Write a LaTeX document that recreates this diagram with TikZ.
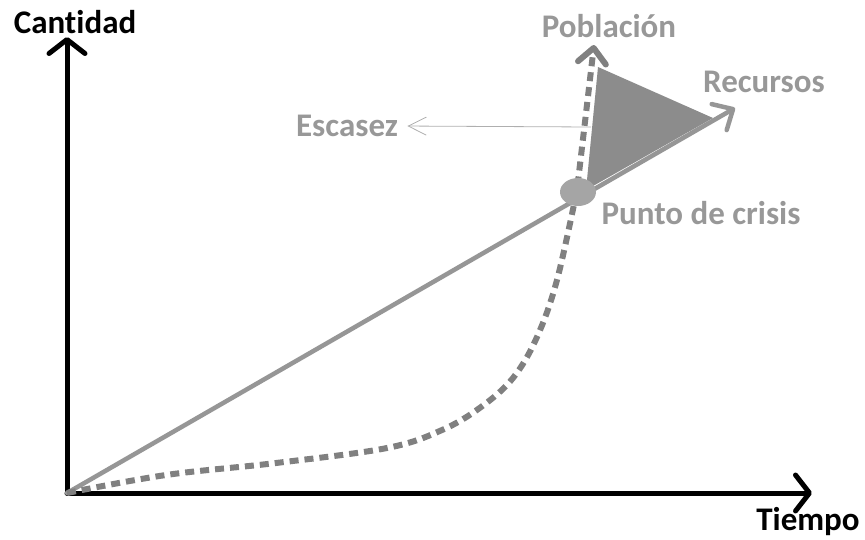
\documentclass[tikz,border=0pt]{standalone}
\usepackage{fontspec}
\setmainfont{Carlito}[Ligatures=NoCommon]
\usetikzlibrary{arrows.meta,shapes.geometric}
\definecolor{grigiotesto}{RGB}{152,152,152}
\definecolor{grigiolinea}{RGB}{150,150,150}
\definecolor{grigiotratto}{RGB}{128,128,128}
\definecolor{grigiotriangolo}{RGB}{140,140,140}
\definecolor{grigiopunto}{RGB}{165,165,165}
\definecolor{grigiosottile}{RGB}{175,175,175}
\begin{document}
\begin{tikzpicture}[x=1pt,y=-1pt,
    etichetta/.style={font=\fontsize{33}{36}\selectfont\bfseries,text=grigiotesto},
    etichettanera/.style={font=\fontsize{33}{36}\selectfont\bfseries,text=black},
    asse/.style={line width=5pt,black,line cap=round,-{Straight Barb[length=14pt,width=36pt,round]}},
    retta/.style={line width=4.5pt,grigiolinea,line cap=round,-{Straight Barb[length=16pt,width=30pt,round]}},
    curva/.style={line width=6pt,grigiotratto,dash pattern=on 9pt off 6pt,-{Straight Barb[length=15pt,width=28pt,round]}},
    sottile/.style={line width=0.8pt,grigiosottile,-{Straight Barb[length=18pt,width=18pt]}}]
    \useasboundingbox (0,0) rectangle (865,539);

    % Assi
    \coordinate (O) at (67,493);
    \coordinate (ycima) at (67,37);
    \coordinate (xcima) at (812,493);
    \draw[asse] (O) -- (ycima); % Asse y
    \draw[asse] (O) -- (xcima); % Asse x
    \node[etichettanera] (cantidad) at (75,22) {Cantidad};
    \node[etichettanera] (tiempo) at (808,522) {Tiempo};

    % Zona di scarsita
    \fill[grigiotriangolo] (598,67) -- (713,118) -- (586,190) -- cycle;

    % Risorse e popolazione
    \coordinate (rcima) at (735,108);
    \coordinate (pcima) at (594,45);
    \coordinate (pc) at (578,192);
    \draw[retta] (O) -- (rcima);
    \draw[curva] plot[smooth,tension=0.6] coordinates {(67,493) (166,475) (276,463) (387,448)
        (442,430) (481,407) (513,378) (537,337) (557,280) (577,190)} -- (pcima);

    % Punto di crisi
    \node[ellipse,fill=grigiopunto,minimum width=36pt,minimum height=28pt,inner sep=0pt] (crisis) at (pc) {};

    \node[etichetta] (poblacion) at (609,26) {Población};
    \node[etichetta] (recursos) at (764,82) {Recursos};
    \node[etichetta] (puntocrisis) at (701,213) {Punto de crisis};
    \node[etichetta] (escasez) at (347,126) {Escasez};

    % Freccia scarsita
    \coordinate (esc) at (591,127);
    \draw[sottile, shorten >=6pt] (esc) -- (escasez.east);
\end{tikzpicture}
\end{document}
